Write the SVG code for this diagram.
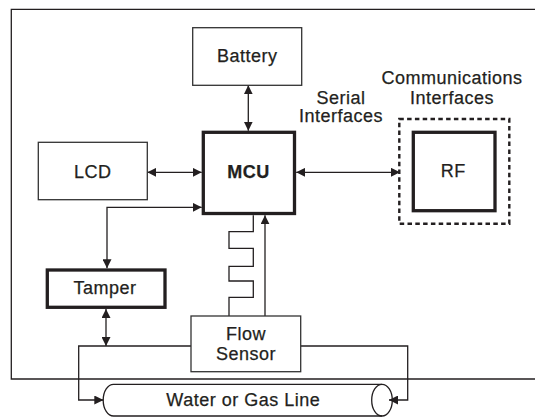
<svg xmlns="http://www.w3.org/2000/svg" width="535" height="417" viewBox="0 0 535 417">
<style>
.bg{fill:#ffffff}
.thin{fill:#ffffff;stroke:#333333;stroke-width:1.3}
.thick{fill:#ffffff;stroke:#231f20;stroke-width:3.3}
.dash{fill:none;stroke:#231f20;stroke-width:2.4;stroke-dasharray:4.5 3.3}
.ln{fill:none;stroke:#231f20;stroke-width:1.3}
.t{font-family:"Liberation Sans",Arial,Helvetica,sans-serif;font-size:18px;letter-spacing:0.5px;fill:#231f20;stroke:#231f20;stroke-width:0.25;text-anchor:middle}
.b{font-weight:bold}
</style>
<defs>
<marker id="ah" markerUnits="userSpaceOnUse" markerWidth="9" markerHeight="9" refX="9" refY="4.5" orient="auto-start-reverse" viewBox="0 0 9 9">
<path d="M0,0 L9,4.5 L0,9 z" fill="#231f20"/>
</marker>
</defs>
<rect class="bg" x="0" y="0" width="535" height="417"/>
<g id="frame">
<path class="ln" d="M540,9.3 H11.3 V379 H540" stroke="#333333"/>
</g>
<g id="connectors">
<line class="ln" x1="248.3" y1="85.3" x2="248.3" y2="130.7" marker-start="url(#ah)" marker-end="url(#ah)"/>
<line class="ln" x1="147.3" y1="172.3" x2="201.7" y2="172.3" marker-start="url(#ah)" marker-end="url(#ah)"/>
<line class="ln" x1="296.2" y1="172.3" x2="400" y2="172.3" marker-start="url(#ah)" marker-end="url(#ah)"/>
<path class="ln" d="M107,268.3 V207.3 H201.7" marker-start="url(#ah)" marker-end="url(#ah)"/>
<line class="ln" x1="106" y1="309" x2="106" y2="346" marker-start="url(#ah)" marker-end="url(#ah)"/>
<path class="ln" d="M253.3,215.2 V231.7 H229 V248.3 H253.3 V266.3 H229 V281 H253.3 V297.3 H229 V316"/>
<line class="ln" x1="265" y1="316" x2="265" y2="215.2" marker-end="url(#ah)"/>
<path class="ln" d="M191,346 H78.7 V400 H103.3" marker-end="url(#ah)"/>
<path class="ln" d="M300.7,346 H407.7 V400 H389" marker-end="url(#ah)"/>
</g>
<g id="battery">
<rect class="thin" x="192.7" y="27.7" width="109" height="57.6"/>
<text class="t" x="247.2" y="62">Battery</text>
</g>
<g id="mcu">
<rect class="thick" x="203.3" y="132.3" width="91.2" height="81.2"/>
<text class="t b" x="248.5" y="178">MCU</text>
</g>
<g id="lcd">
<rect class="thin" x="38.3" y="142.3" width="109" height="57.4"/>
<text class="t" x="92.8" y="178">LCD</text>
</g>
<g id="serial-label">
<text class="t" x="341" y="103.5">Serial</text>
<text class="t" x="341" y="122">Interfaces</text>
</g>
<g id="comm">
<rect class="dash" x="399.3" y="119" width="110" height="104.7"/>
<text class="t" x="452" y="83.5">Communications</text>
<text class="t" x="452" y="103.5">Interfaces</text>
</g>
<g id="rf">
<rect class="thick" x="413.3" y="132.3" width="81.7" height="78.4"/>
<text class="t" x="453.3" y="177">RF</text>
</g>
<g id="tamper">
<rect class="thick" x="47.3" y="270" width="117.7" height="37.3"/>
<text class="t" x="105" y="293.5">Tamper</text>
</g>
<g id="flow-sensor">
<rect class="thin" x="191" y="316" width="109.7" height="55.7"/>
<text class="t" x="246" y="340">Flow</text>
<text class="t" x="246" y="360">Sensor</text>
</g>
<g id="pipe">
<path class="ln" d="M382,384.3 H113.5 A10.3 15.85 0 0 0 113.5 416 H382"/>
<ellipse class="ln" cx="382" cy="400.15" rx="10.3" ry="15.85"/>
<text class="t" x="243.3" y="405.5">Water or Gas Line</text>
</g>
</svg>
